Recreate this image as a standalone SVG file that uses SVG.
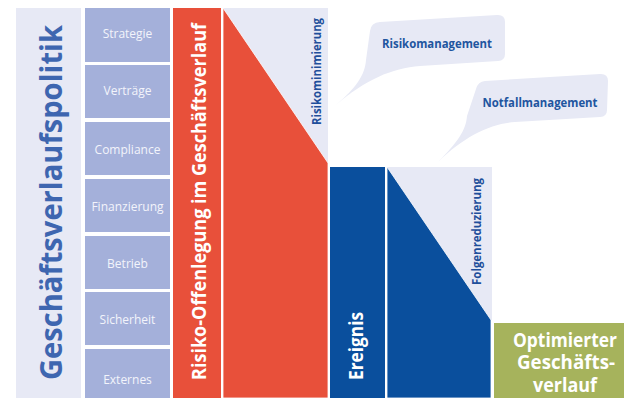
<svg xmlns="http://www.w3.org/2000/svg" width="624" height="398" viewBox="0 0 624 398">
<style>
.lav{fill:#e7e9f5}
.box{fill:#a4b0da}
.red{fill:#e8503a}
.blue{fill:#0a4f9d}
.green{fill:#a6b35c}
text{font-family:"Open Sans","Liberation Sans",Arial,sans-serif}
.bl{font-size:12px;fill:#f3f4fb;text-anchor:middle}
.vt{font-weight:bold;fill:#ffffff}
.sm{font-weight:bold;font-size:11.5px;fill:#1f4f9b}
.bub{font-weight:bold;font-size:12px;fill:#21559f;text-anchor:middle}
</style>
<rect width="624" height="398" fill="#ffffff"/>
<g id="politik">
<rect class="lav" x="16" y="8" width="65" height="390"/>
<text transform="translate(62,380) rotate(-90)" font-size="31" font-weight="bold" fill="#3e66b0" textLength="355" lengthAdjust="spacingAndGlyphs">Geschäftsverlaufspolitik</text>
</g>
<g id="strategie"><rect class="box" x="85" y="8" width="85" height="54"/><text class="bl" x="127.5" y="38">Strategie</text></g>
<g id="vertraege"><rect class="box" x="85" y="65" width="85" height="53"/><text class="bl" x="127.5" y="95">Verträge</text></g>
<g id="compliance"><rect class="box" x="85" y="122" width="85" height="53"/><text class="bl" x="127.5" y="154">Compliance</text></g>
<g id="finanzierung"><rect class="box" x="85" y="179" width="85" height="53"/><text class="bl" x="127.5" y="211">Finanzierung</text></g>
<g id="betrieb"><rect class="box" x="85" y="236" width="85" height="53"/><text class="bl" x="127.5" y="268">Betrieb</text></g>
<g id="sicherheit"><rect class="box" x="85" y="292" width="85" height="53"/><text class="bl" x="127.5" y="324">Sicherheit</text></g>
<g id="externes"><rect class="box" x="85" y="349" width="85" height="49"/><text class="bl" x="127.5" y="384">Externes</text></g>
<g id="offenlegung">
<rect class="red" x="173" y="8" width="48" height="390"/>
<text class="vt" transform="translate(206,380) rotate(-90)" font-size="20" textLength="357" lengthAdjust="spacingAndGlyphs">Risiko-Offenlegung im Geschäftsverlauf</text>
</g>
<g id="risikominimierung">
<rect class="lav" x="223" y="8" width="105" height="155"/>
<polygon class="red" points="223,8 328,163 328,398 223,398" stroke="#ffffff" stroke-width="0.8"/>
<text class="sm" transform="translate(321,125) rotate(-90)" textLength="107" lengthAdjust="spacingAndGlyphs">Risikominimierung</text>
</g>
<g id="ereignis">
<rect class="blue" x="330" y="167" width="55" height="231"/>
<text class="vt" transform="translate(363,380) rotate(-90)" font-size="19" textLength="68" lengthAdjust="spacingAndGlyphs">Ereignis</text>
</g>
<g id="folgenreduzierung">
<rect class="lav" x="387" y="167" width="105" height="153"/>
<polygon class="blue" points="387,167 491,320 491,398 387,398" stroke="#ffffff" stroke-width="0.8"/>
<text class="sm" transform="translate(481,285) rotate(-90)" textLength="107" lengthAdjust="spacingAndGlyphs">Folgenreduzierung</text>
</g>
<g id="optimiert">
<rect class="green" x="494" y="323" width="130" height="75"/>
<text class="vt" x="565" y="347" font-size="19" text-anchor="middle" textLength="104" lengthAdjust="spacingAndGlyphs">Optimierter</text>
<text class="vt" x="566" y="369" font-size="19" text-anchor="middle" textLength="98" lengthAdjust="spacingAndGlyphs">Geschäfts-</text>
<text class="vt" x="565" y="392" font-size="19" text-anchor="middle" textLength="64" lengthAdjust="spacingAndGlyphs">verlauf</text>
</g>
<g id="risikomanagement">
<path class="lav" d="M380,22 L497,15 Q505,14.5 505,22 L505,54 Q505,60.5 498,61 L420,66 C392,68 365,80 336,105 C356,88 365,75 366,60 L370,31 Q371,22.5 380,22 Z"/>
<text class="bub" x="437" y="48" textLength="110" lengthAdjust="spacingAndGlyphs">Risikomanagement</text>
</g>
<g id="notfallmanagement">
<path class="lav" d="M485,81 L600,74 Q608,73.5 608,81 L607,110 Q607,116.5 600,117 L515,122 C490,124 465,136 438,162 C458,142 466,130 467,116 L476,89 Q478,81.5 485,81 Z"/>
<text class="bub" x="540" y="107" textLength="115" lengthAdjust="spacingAndGlyphs">Notfallmanagement</text>
</g>
</svg>
